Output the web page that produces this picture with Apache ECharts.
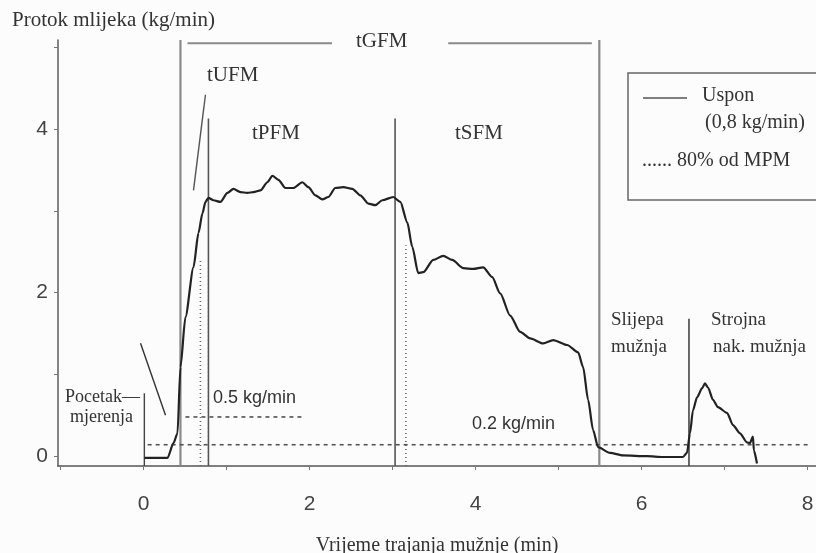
<!DOCTYPE html>
<html><head><meta charset="utf-8">
<script src="https://cdn.jsdelivr.net/npm/echarts@6/dist/echarts.min.js"></script>
<style>html,body{margin:0;padding:0;background:#fcfcfc}#c{width:816px;height:553px}</style>
</head><body><div id="c"></div>
<script>
// ---- data (minutes, kg/min) ----
const timeMin = [0.012,0.289,0.361,0.409,0.445,0.505,0.602,0.662,0.710,0.746,0.782,0.842,0.927,1.011,1.083,1.167,1.251,1.324,1.408,1.492,1.552,1.625,1.709,1.805,1.913,1.986,2.070,2.154,2.226,2.310,2.407,2.515,2.611,2.708,2.792,2.876,3.008,3.093,3.177,3.237,3.309,3.369,3.490,3.610,3.718,3.851,3.971,4.091,4.200,4.296,4.416,4.537,4.657,4.813,4.934,5.102,5.235,5.295,5.355,5.415,5.475,5.620,5.776,6.065,6.258,6.498,6.546,6.582,6.618,6.667,6.727,6.763,6.799,6.859,6.919,7.028,7.100,7.184,7.268,7.304,7.340,7.352,7.389];
const flow = [-0.02,-0.02,0.16,0.28,1.09,1.70,2.31,2.73,2.97,3.11,3.16,3.13,3.11,3.22,3.27,3.23,3.22,3.23,3.25,3.35,3.43,3.38,3.28,3.28,3.35,3.29,3.19,3.14,3.17,3.28,3.29,3.27,3.19,3.09,3.07,3.13,3.17,3.11,2.86,2.56,2.24,2.25,2.40,2.45,2.40,2.30,2.29,2.31,2.19,1.99,1.72,1.52,1.44,1.38,1.42,1.36,1.27,1.09,0.69,0.32,0.11,0.04,0.01,0.00,-0.01,-0.01,0.04,0.28,0.56,0.72,0.83,0.89,0.84,0.69,0.60,0.53,0.38,0.28,0.17,0.16,0.24,0.07,-0.09];
const xTicks = [-1,0,1,2,3,4,5,6,7,8];
const xTickLabels = [0,2,4,6,8];
const yTicks = [0,1,2,3,4,5];
const yTickLabels = [0,2,4];
// phase marker lines (minutes) and their heights (kg/min)
const gfmLinesX = [0.445, 5.49];
const gfmBarY = 5.05;
const gfmBars = [[0.53, 2.27], [3.67, 5.40]];
const pfmLinesX = [0.782, 3.03];
const pfmLineTop = 4.13;
const startLine = [0.01, 0.77];
const machineLine = [6.57, 1.68];
const mpm80Lines = [[0.686, 2.40], [3.16, 2.58]];
const level05 = [0.48, 0.505, 1.91];
const level02 = [0.14, 0.05, 8.0];
const pointerStart = [[-0.036, 1.38], [0.265, 0.50]];
const pointerUFM = [[0.746, 4.42], [0.602, 3.25]];

const Y_MIN = -0.12, Y_MAX = 5.09, X_MIN = -1.03, X_MAX = 8.1;
const serif = '"Liberation Serif","DejaVu Serif",serif';
const sans = '"Liberation Sans",Arial,sans-serif';
const txt = '#333';

function seg(p1, p2, color, width, type) {
  return {type:'line', data:[p1, p2], symbol:'none', silent:true, animation:false,
    lineStyle:{color:color, width:width, type:type||'solid'}, z:2};
}
const series = [];
gfmLinesX.forEach(x => series.push(seg([x, Y_MIN],[x, Y_MAX],'#8a8a8a',2.2)));
gfmBars.forEach(b => series.push(seg([b[0], gfmBarY],[b[1], gfmBarY],'#8a8a8a',2)));
pfmLinesX.forEach(x => series.push(seg([x, Y_MIN],[x, pfmLineTop],'#555',1.6)));
series.push(seg([startLine[0], Y_MIN],[startLine[0], startLine[1]],'#444',1.4));
series.push(seg([machineLine[0], Y_MIN],[machineLine[0], machineLine[1]],'#444',1.6));
mpm80Lines.forEach(l => series.push(seg([l[0], Y_MIN],[l[0], l[1]],'#666',1.6,[1,3])));
series.push(seg([level05[1], level05[0]],[level05[2], level05[0]],'#555',1.6,[4,4]));
series.push(seg([level02[1], level02[0]],[level02[2], level02[0]],'#555',1.6,[4,4]));
series.push(seg(pointerStart[0], pointerStart[1],'#333',1.4));
series.push(seg(pointerUFM[0], pointerUFM[1],'#555',1.4));
series.push({type:'line', data: timeMin.map((t,i)=>[t, flow[i]]), symbol:'none', smooth:0.25,
  smoothMonotone:'x', animation:false, lineStyle:{color:'#222', width:2.2}, z:5});

const chart = echarts.init(document.getElementById('c'));
chart.setOption({
  backgroundColor:'#fcfcfc',
  animation:false,
  grid:{left:58, top:40, right:0, bottom:87, containLabel:false, outerBoundsMode:'none'},
  xAxis:{type:'value', min:X_MIN, max:X_MAX,
    name:'Vrijeme trajanja mužnje (min)', nameLocation:'middle', nameGap:70,
    nameTextStyle:{fontFamily:serif, fontSize:20, color:txt},
    axisLine:{onZero:false, lineStyle:{color:'#555', width:1.6}},
    axisTick:{show:true, length:4, customValues:xTicks, lineStyle:{color:'#777'}},
    axisLabel:{customValues:xTickLabels, fontFamily:sans, fontSize:21, color:'#444', margin:28},
    splitLine:{show:false}},
  yAxis:{type:'value', min:Y_MIN, max:Y_MAX,
    axisLine:{show:true, onZero:false, lineStyle:{color:'#666', width:1.6}},
    axisTick:{show:true, length:4, customValues:yTicks, lineStyle:{color:'#777'}},
    axisLabel:{customValues:yTickLabels, fontFamily:sans, fontSize:21, color:'#444', margin:10},
    splitLine:{show:false}},
  series: series,
  graphic:[
    {type:'text', left:12, top:10, style:{text:'Protok mlijeka (kg/min)', fill:txt, font:'21px '+serif}},
    {type:'text', left:356, top:31, style:{text:'tGFM', fill:txt, font:'21px '+serif}},
    {type:'text', left:207, top:65, style:{text:'tUFM', fill:txt, font:'21px '+serif}},
    {type:'text', left:252, top:123, style:{text:'tPFM', fill:txt, font:'21px '+serif}},
    {type:'text', left:455, top:123, style:{text:'tSFM', fill:txt, font:'21px '+serif}},
    {type:'text', left:213, top:389, style:{text:'0.5 kg/min', fill:txt, font:'18px '+sans}},
    {type:'text', left:472, top:415, style:{text:'0.2 kg/min', fill:txt, font:'18px '+sans}},
    {type:'text', left:65, top:388, style:{text:'Pocetak—', fill:txt, font:'18px '+serif}},
    {type:'text', left:70, top:408, style:{text:'mjerenja', fill:txt, font:'18px '+serif}},
    {type:'text', left:611, top:311, style:{text:'Slijepa', fill:txt, font:'19px '+serif}},
    {type:'text', left:611, top:338, style:{text:'mužnja', fill:txt, font:'19px '+serif}},
    {type:'text', left:711, top:311, style:{text:'Strojna', fill:txt, font:'19px '+serif}},
    {type:'text', left:713, top:338, style:{text:'nak. mužnja', fill:txt, font:'19px '+serif}},
    {type:'rect', shape:{x:628, y:73, width:200, height:127}, style:{fill:'none', stroke:'#666', lineWidth:1.5}},
    {type:'line', shape:{x1:643, y1:98, x2:687, y2:98}, style:{stroke:'#555', lineWidth:1.6}},
    {type:'text', left:702, top:86, style:{text:'Uspon', fill:txt, font:'20px '+serif}},
    {type:'text', left:705, top:113, style:{text:'(0,8 kg/min)', fill:txt, font:'20px '+serif}},
    {type:'text', left:642, top:151, style:{text:'...... 80% od MPM', fill:txt, font:'20px '+serif}}
  ]
});
</script></body></html>
